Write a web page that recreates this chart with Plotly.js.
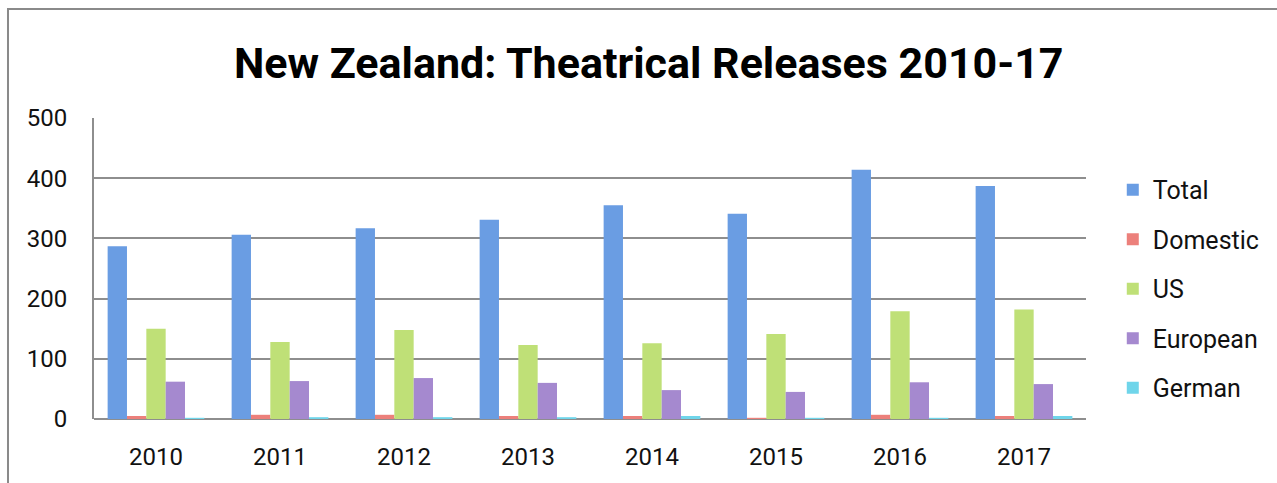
<!DOCTYPE html>
<html>
<head>
<meta charset="utf-8">
<script src="https://cdn.plot.ly/plotly-3.0.1.min.js"></script>
<style>html,body{margin:0;padding:0;background:#fff;}#chart{width:1277px;height:483px;}</style>
</head>
<body>
<div id="chart"></div>
<script>
const years = ["2010","2011","2012","2013","2014","2015","2016","2017"];
const total    = [287, 306, 317, 331, 355, 341, 414, 387];
const domestic = [5, 7, 7, 5, 5, 2, 7, 5];
const us       = [150, 128, 148, 123, 126, 141, 179, 182];
const european = [62, 63, 68, 60, 48, 45, 61, 58];
const german   = [2, 3, 3, 3, 5, 2, 2, 5];

const seriesNames = ["Total","Domestic","US","European","German"];
const seriesVals = [total, domestic, us, european, german];
const colors = ["#6a9de3","#ec807b","#bfe077","#a589cf","#6fd5ea"];

const font = "Roboto, 'DejaVu Sans', sans-serif";

const traces = seriesNames.map((n,i)=>({
  type:"bar", name:n, x:years, y:seriesVals[i],
  legendgroup:"g"+i,
  marker:{color:colors[i], line:{width:0}},
  hoverinfo:"x+y+name"
}));

const layout = {
  width:1277, height:483,
  paper_bgcolor:"#fff", plot_bgcolor:"#fff",
  margin:{l:94, r:191, t:118, b:64},
  title:{text:"<b>New Zealand: Theatrical Releases 2010-17</b>", x:0.508, xanchor:"center", y:0.87, yanchor:"middle",
         font:{family:font, size:43, color:"#000"}},
  barmode:"group", bargap:0.22, bargroupgap:0,
  xaxis:{type:"category", showgrid:false, zeroline:false, showline:false,
         ticks:"", ticklabelstandoff:21, tickfont:{family:font, size:24, color:"#111"}},
  yaxis:{range:[0,500], dtick:100, showgrid:true, gridcolor:"#8e8e8e", gridwidth:2,
         zeroline:true, zerolinecolor:"#8e8e8e", zerolinewidth:2,
         showline:true, linecolor:"#8e8e8e", linewidth:2, ticks:"",
         ticklabelstandoff:20, tickfont:{family:font, size:24, color:"#111"}},
  legend:{x:1.027, xanchor:"left", y:0.432, yanchor:"middle", tracegroupgap:14,
          font:{family:font, size:25, color:"#111"}, bgcolor:"rgba(0,0,0,0)"},
  shapes:[
    {type:"rect", xref:"paper", yref:"paper", x0:-0.0867, x1:1.25, y0:-0.3, y1:1.362,
     line:{color:"#8a8a8a", width:2}, fillcolor:"rgba(0,0,0,0)", layer:"below"}
  ],
  showlegend:true
};

Plotly.newPlot("chart", traces, layout, {displayModeBar:false, staticPlot:true});
</script>
</body>
</html>
